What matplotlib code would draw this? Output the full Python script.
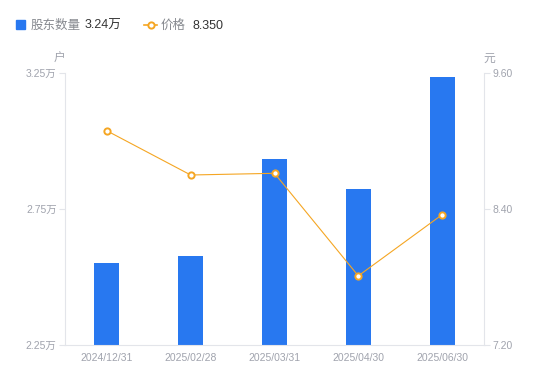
import matplotlib
matplotlib.use("Agg")
import matplotlib.pyplot as plt
from matplotlib.lines import Line2D

plt.rcParams['font.family'] = ['Liberation Sans', 'Noto Sans CJK SC', 'DejaVu Sans']

categories = ["2024/12/31", "2025/02/28", "2025/03/31", "2025/04/30", "2025/06/30"]
holders = [2.55, 2.577, 2.933, 2.822, 3.236]   # 万户
price = [9.09, 8.70, 8.715, 7.81, 8.35]        # 元
left_ticks = [2.25, 2.75, 3.25]
left_labels = ["2.25万", "2.75万", "3.25万"]
right_ticks = [7.20, 8.40, 9.60]
right_labels = ["7.20", "8.40", "9.60"]

W, H = 550, 381
fig = plt.figure(figsize=(W / 100, H / 100), dpi=100)
ax = fig.add_axes([65 / W, 1 - 345 / H, (484 - 65) / W, (345 - 73) / H])
ax2 = ax.twinx()

bar_color = "#2878F0"
line_color = "#F5A623"
grey = "#A0A3AD"
spine_c = "#E3E5EA"

x = list(range(len(categories)))
ax.bar(x, holders, width=0.3, color=bar_color, zorder=2)
ax.set_xlim(-0.5, len(categories) - 0.5)
ax.set_ylim(2.25, 3.25)
ax.set_yticks(left_ticks)
ax.set_yticklabels(left_labels)
ax.set_xticks(x)
ax.set_xticklabels(categories)

ax2.plot(x, price, color=line_color, lw=0.8, marker="o", ms=4.5,
         mfc="white", mec=line_color, mew=1.4, zorder=3)
ax2.set_ylim(7.20, 9.60)
ax2.set_yticks(right_ticks)
ax2.set_yticklabels(right_labels)

for a in (ax, ax2):
    for s in a.spines.values():
        s.set_visible(False)
ax.spines['left'].set_visible(True)
ax.spines['left'].set_color(spine_c)
ax.spines['bottom'].set_visible(True)
ax.spines['bottom'].set_color(spine_c)
ax2.spines['right'].set_visible(True)
ax2.spines['right'].set_color(spine_c)

ax.tick_params(axis='y', colors=spine_c, labelcolor=grey, labelsize=7.5, length=4, pad=2)
ax.tick_params(axis='x', length=0, labelcolor=grey, labelsize=7.5, pad=6)
ax2.tick_params(axis='y', colors=spine_c, labelcolor=grey, labelsize=7.5, length=4, pad=2)

fig.text(60 / W, 1 - 59 / H, "户", color=grey, fontsize=8.5, ha='center', va='center')
fig.text(489 / W, 1 - 59 / H, "元", color=grey, fontsize=8.5, ha='center', va='center')

# legend
ly = 1 - 26 / H
fig.patches.append(plt.Rectangle((16 / W, 1 - 29 / H), 9 / W, 9 / H, color=bar_color,
                                 transform=fig.transFigure, figure=fig))
fig.text(31 / W, ly, "股东数量", color="#86898F", fontsize=9, va='center')
fig.text(85 / W, ly, "3.24万", color="#333333", fontsize=9, va='center')
fig.lines.append(Line2D([144 / W, 157 / W], [1 - 24.5 / H, 1 - 24.5 / H], color=line_color, lw=1.2,
                        transform=fig.transFigure))
fig.lines.append(Line2D([150.5 / W], [1 - 24.5 / H], color=line_color, marker="o", ms=4.5,
                        mfc="white", mec=line_color, mew=1.4, transform=fig.transFigure))
fig.text(161 / W, ly, "价格", color="#86898F", fontsize=9, va='center')
fig.text(192 / W, ly, "8.350", color="#333333", fontsize=9, va='center')

fig.savefig("out.png", dpi=100)
